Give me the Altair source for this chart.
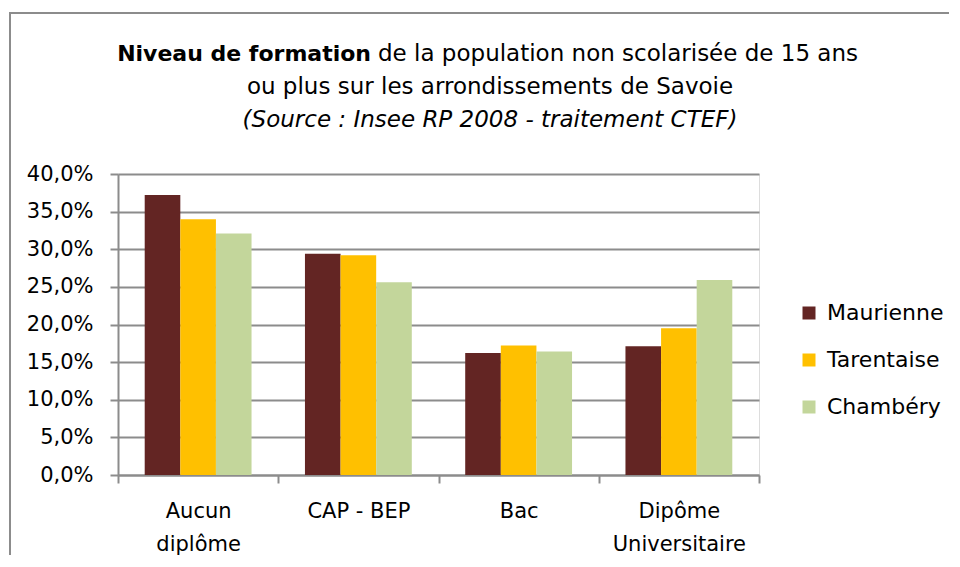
import altair as alt
import pandas as pd

categories = ["Aucun diplôme", "CAP - BEP", "Bac", "Dipôme Universitaire"]
series = ["Maurienne", "Tarentaise", "Chambéry"]
maurienne = [37.2, 29.4, 16.2, 17.1]
tarentaise = [34.0, 29.2, 17.2, 19.5]
chambery = [32.1, 25.6, 16.4, 25.9]
colors = ["#632523", "#FFC000", "#C3D69B"]
y_ticks = [0, 5, 10, 15, 20, 25, 30, 35, 40]

title_bold = "Niveau de formation"
title_rest = "de la population non scolarisée de 15 ans"
title_line2 = "ou plus sur les arrondissements de Savoie"
title_line3 = "(Source : Insee RP 2008 - traitement CTEF)"

rows = []
for s, vals in zip(series, [maurienne, tarentaise, chambery]):
    for c, v in zip(categories, vals):
        rows.append({"Niveau": c, "Arrondissement": s, "Part": v})
df = pd.DataFrame(rows)

FONT = "DejaVu Sans"
GRAY = "#8c8c8c"

bars = alt.Chart(df).mark_bar().encode(
    x=alt.X("Niveau:N", sort=categories, title=None,
            scale=alt.Scale(paddingInner=0, paddingOuter=0),
            axis=alt.Axis(labelAngle=0, tickBand="extent", tickSize=8,
                          tickColor=GRAY, tickWidth=2, domainColor=GRAY, domainWidth=2,
                          labelFont=FONT, labelFontSize=21, labelColor="#000000",
                          labelBaseline="top", labelPadding=17, labelLineHeight=33,
                          labelExpr="indexof(datum.label, ' - ') >= 0 ? datum.label : split(datum.label, ' ')")),
    xOffset=alt.XOffset("Arrondissement:N", sort=series,
                        scale=alt.Scale(paddingInner=0, paddingOuter=0.75)),
    y=alt.Y("Part:Q", title=None,
            scale=alt.Scale(domain=[0, 40], nice=False),
            axis=alt.Axis(values=y_ticks, tickSize=8, tickColor=GRAY, tickWidth=2,
                          domainColor=GRAY, domainWidth=2, gridColor=GRAY, gridWidth=2,
                          labelFont=FONT, labelFontSize=21, labelColor="#000000",
                          labelPadding=17,
                          labelExpr="replace(format(datum.value, '.1f'), '.', ',') + '%'")),
    color=alt.Color("Arrondissement:N", sort=series,
                    scale=alt.Scale(domain=series, range=colors),
                    legend=alt.Legend(title=None, orient="none", legendX=680, legendY=128,
                                      symbolType="square", symbolSize=169, symbolStrokeWidth=0,
                                      labelFont=FONT, labelFontSize=22, labelColor="#000000",
                                      labelOffset=7, rowPadding=25, padding=0)),
)

anno = alt.Data(values=[{}])

frame_left = alt.Chart(anno).mark_rule(stroke=GRAY, strokeWidth=2).encode(
    x=alt.value(-108), y=alt.value(-162), y2=alt.value(381)
)
frame_top = alt.Chart(anno).mark_rule(stroke=GRAY, strokeWidth=2).encode(
    x=alt.value(-109), x2=alt.value(831), y=alt.value(-161)
)

t1a = alt.Chart(anno).mark_text(text=title_bold, font=FONT, fontSize=22, fontWeight="bold",
                                align="right", baseline="alphabetic").encode(
    x=alt.value(253), y=alt.value(-113))
t1b = alt.Chart(anno).mark_text(text=title_rest, font=FONT, fontSize=23,
                                align="left", baseline="alphabetic").encode(
    x=alt.value(260), y=alt.value(-113))
t2 = alt.Chart(anno).mark_text(text=title_line2, font=FONT, fontSize=23,
                               align="center", baseline="alphabetic").encode(
    x=alt.value(372), y=alt.value(-80))
t3 = alt.Chart(anno).mark_text(text=title_line3, font=FONT, fontSize=23, fontStyle="italic",
                               align="center", baseline="alphabetic").encode(
    x=alt.value(372), y=alt.value(-47))

chart = alt.layer(frame_left, frame_top, bars, t1a, t1b, t2, t3).properties(
    width=641, height=301,
    autosize=alt.AutoSizeParams(type="none"),
    padding={"left": 110, "top": 166, "right": 190, "bottom": 80},
).configure_view(stroke=None).configure(background="#ffffff")

chart.save("out.html", embed_options={"renderer": "svg", "actions": False})
